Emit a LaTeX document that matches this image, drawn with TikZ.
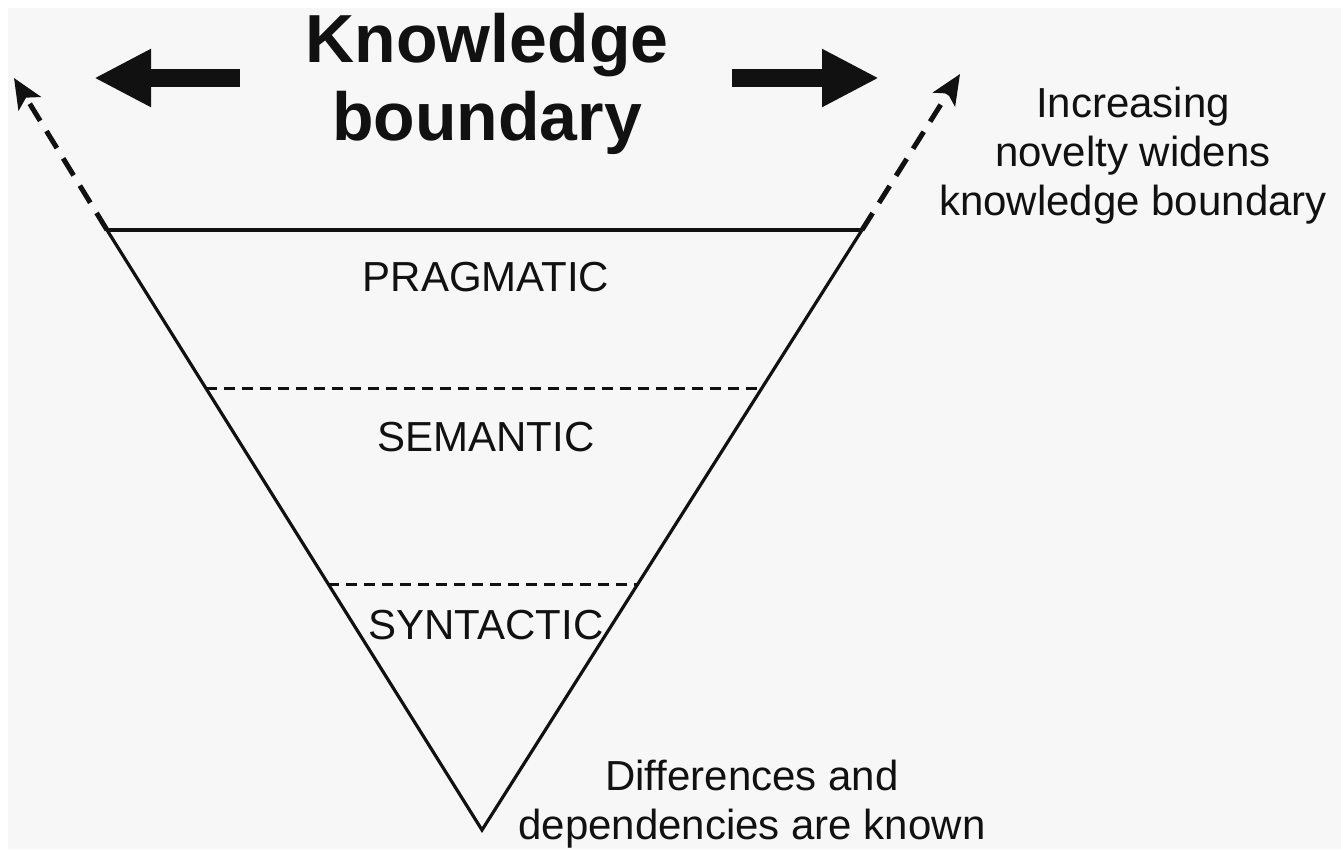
\documentclass[tikz,border=0pt]{standalone}
\usepackage{fontspec}
\setmainfont{Liberation Sans}
\usetikzlibrary{arrows.meta}
\definecolor{bgcol}{HTML}{F7F7F7}
\definecolor{ink}{HTML}{111111}
\begin{document}
\begin{tikzpicture}[x=1pt,y=-1pt,
  edge/.style={draw=ink,line width=3.2pt},
  layer/.style={draw=ink,line width=3pt,dash pattern=on 11pt off 7pt},
  widen/.style={draw=ink,line width=5pt,dash pattern=on 20pt off 12pt,
    -{Stealth[length=30pt,width=26pt,inset=7pt]}},
  bigarrow/.style={draw=ink,line width=18pt,-{Triangle[length=57pt,width=54pt]}},
  lbl/.style={text=ink,font=\fontsize{42}{49}\selectfont,inner sep=0pt},
  note/.style={text=ink,font=\fontsize{42}{49}\selectfont,align=center,inner sep=0pt},
  title/.style={text=ink,font=\fontsize{68}{78}\selectfont\bfseries,align=center,inner sep=0pt}]
\fill[white] (0,0) rectangle (1341,849);
\fill[bgcol] (8,8) rectangle (1341,849);
\useasboundingbox (0,0) rectangle (1341,849);

% triangle corners
\coordinate (tl) at (107,230);
\coordinate (tr) at (862,230);
\coordinate (b) at (482,830);
\coordinate (sl1) at (206,388);
\coordinate (sr1) at (762,388);
\coordinate (sl2) at (328,584);
\coordinate (sr2) at (638,584);
\coordinate (ltip) at (14,78);
\coordinate (rtip) at (960,74);

% triangle
\draw[edge] (tl) -- (tr);
\draw[edge] (tl) -- (b) -- (tr);
\draw[layer] (sl1) -- (sr1);
\draw[layer] (sl2) -- (sr2);

% widening arrows
\draw[widen] (tl) -- (ltip);
\draw[widen] (tr) -- (rtip);

% title and big arrows
\node[title] (ttl) at (487,84) {Knowledge\\boundary};
\coordinate (la0) at (240,78);
\coordinate (la1) at (94,78);
\coordinate (ra0) at (732,78);
\coordinate (ra1) at (879,78);
\draw[bigarrow] (la0) -- (la1);
\draw[bigarrow] (ra0) -- (ra1);

% layer labels
\node[lbl] (prag) at (486,277) {PRAGMATIC};
\node[lbl] (sem) at (486,437) {SEMANTIC};
\node[lbl] (syn) at (486,625) {SYNTACTIC};

% notes
\node[note] (nov) at (1133,156) {Increasing\\novelty widens\\knowledge boundary};
\node[note] (known) at (752,804) {Differences and\\dependencies are known};
\end{tikzpicture}
\end{document}
